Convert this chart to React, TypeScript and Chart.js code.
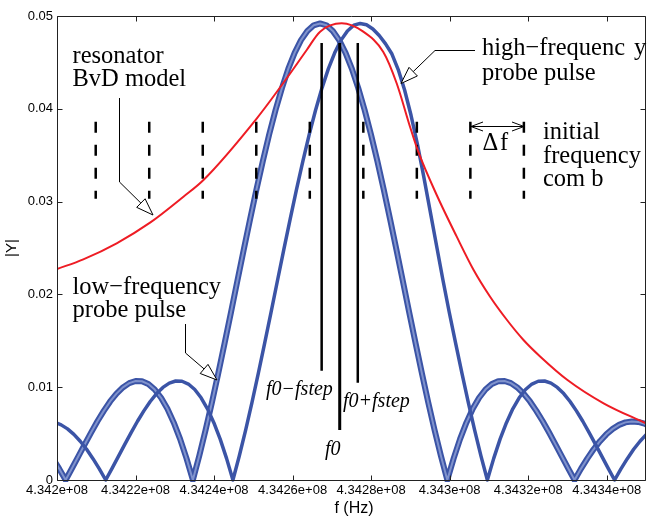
import { useEffect, useRef } from 'react';
import { Chart, registerables } from 'chart.js';

Chart.register(...registerables);

// ---- axis ticks ----
const xTickValues = [434200000, 434220000, 434240000, 434260000, 434280000, 434300000, 434320000, 434340000];
const xTickLabels = ['4.342e+08', '4.3422e+08', '4.3424e+08', '4.3426e+08', '4.3428e+08', '4.343e+08', '4.3432e+08', '4.3434e+08'];
const yTickValues = [0, 0.01, 0.02, 0.03, 0.04, 0.05];
const yTickLabels = ['0', '0.01', '0.02', '0.03', '0.04', '0.05'];

// ---- low-frequency probe pulse (circle markers) ----
const lowPulseHz = [
  434198960, 434200580, 434202200, 434203820, 434205440, 434207060, 434208680, 434210300, 434211920, 434213540,
  434215160, 434216780, 434218400, 434220020, 434221640, 434223260, 434224880, 434226500, 434228120, 434229740,
  434231360, 434232980, 434234600, 434236220, 434237840, 434239460, 434241080, 434242700, 434244320, 434245940,
  434247560, 434249180, 434250800, 434252420, 434254040, 434255660, 434257280, 434258900, 434260520, 434262140,
  434263760, 434265380, 434267000, 434268620, 434270240, 434271860, 434273480, 434275100, 434276720, 434278340,
  434279960, 434281580, 434283200, 434284820, 434286440, 434288060, 434289680, 434291300, 434292920, 434294540,
  434296160, 434297780, 434299400, 434301020, 434302640, 434304260, 434305880, 434307500, 434309120, 434310740,
  434312360, 434313980, 434315600, 434317220, 434318840, 434320460, 434322080, 434323700, 434325320, 434326940,
  434328560, 434330180, 434331800, 434333420, 434335040, 434336660, 434338280, 434339900, 434341520, 434343140,
  434344760, 434346380, 434348000, 434349620, 434351240,
];
const lowPulseY = [
  0.0023, 0.0012, 0, 0.00126, 0.00255, 0.00384, 0.00511, 0.00633, 0.00745, 0.00846,
  0.00931, 0.00998, 0.01044, 0.01067, 0.01064, 0.01034, 0.00975, 0.00886, 0.00767, 0.00618,
  0.0044, 0.00233, 0, 0.00258, 0.00538, 0.00836, 0.01151, 0.01477, 0.0181, 0.02147,
  0.02482, 0.02812, 0.03132, 0.03437, 0.03724, 0.03987, 0.04223, 0.0443, 0.04603, 0.0474,
  0.04839, 0.049, 0.0492, 0.049, 0.04839, 0.0474, 0.04603, 0.0443, 0.04223, 0.03987,
  0.03724, 0.03437, 0.03132, 0.02812, 0.02482, 0.02147, 0.0181, 0.01477, 0.01151, 0.00836,
  0.00538, 0.00258, 0, 0.00233, 0.0044, 0.00618, 0.00767, 0.00886, 0.00975, 0.01034,
  0.01064, 0.01067, 0.01044, 0.00998, 0.00931, 0.00846, 0.00745, 0.00633, 0.00511, 0.00384,
  0.00255, 0.00126, 0, 0.0012, 0.0023, 0.00331, 0.00418, 0.00492, 0.00551, 0.00594,
  0.00621, 0.00631, 0.00626, 0.00607, 0.00573,
];

// ---- high-frequency probe pulse (plus markers) ----
const highPulseHz = [
  434199440, 434201060, 434202680, 434204300, 434205920, 434207540, 434209160, 434210780, 434212400, 434214020,
  434215640, 434217260, 434218880, 434220500, 434222120, 434223740, 434225360, 434226980, 434228600, 434230220,
  434231840, 434233460, 434235080, 434236700, 434238320, 434239940, 434241560, 434243180, 434244800, 434246420,
  434248040, 434249660, 434251280, 434252900, 434254520, 434256140, 434257760, 434259380, 434261000, 434262620,
  434264240, 434265860, 434267480, 434269100, 434270720, 434272340, 434273960, 434275580, 434277200, 434278820,
  434280440, 434282060, 434283680, 434285300, 434286920, 434288540, 434290160, 434291780, 434293400, 434295020,
  434296640, 434298260, 434299880, 434301500, 434303120, 434304740, 434306360, 434307980, 434309600, 434311220,
  434312840, 434314460, 434316080, 434317700, 434319320, 434320940, 434322560, 434324180, 434325800, 434327420,
  434329040, 434330660, 434332280, 434333900, 434335520, 434337140, 434338760, 434340380, 434342000, 434343620,
  434345240, 434346860, 434348480, 434350100, 434351720,
];
const highPulseY = [
  0.00621, 0.00594, 0.00551, 0.00492, 0.00418, 0.00331, 0.0023, 0.0012, 0, 0.00126,
  0.00255, 0.00384, 0.00511, 0.00633, 0.00745, 0.00846, 0.00931, 0.00998, 0.01044, 0.01067,
  0.01064, 0.01034, 0.00975, 0.00886, 0.00767, 0.00618, 0.0044, 0.00233, 0, 0.00258,
  0.00538, 0.00836, 0.01151, 0.01477, 0.0181, 0.02147, 0.02482, 0.02812, 0.03132, 0.03437,
  0.03724, 0.03987, 0.04223, 0.0443, 0.04603, 0.0474, 0.04839, 0.049, 0.0492, 0.04905,
  0.0486, 0.0479, 0.047, 0.0459, 0.0442, 0.042, 0.0393, 0.0362, 0.0327, 0.029,
  0.0253, 0.0216, 0.0181, 0.01477, 0.01151, 0.00836, 0.00538, 0.00258, 0, 0.00233,
  0.0044, 0.00618, 0.00767, 0.00886, 0.00975, 0.01034, 0.01064, 0.01067, 0.01044, 0.00998,
  0.00931, 0.00846, 0.00745, 0.00633, 0.00511, 0.00384, 0.00255, 0.00126, 0, 0.0012,
  0.0023, 0.00331, 0.00418, 0.00492, 0.00551,
];

// ---- resonator BvD model ----
const bvdHz = [
  434200000, 434206700, 434215200, 434223700, 434232200, 434237300, 434250900, 434258500, 434263600, 434267000,
  434272500, 434278000, 434283100, 434286500, 434289900, 434292000, 434296700, 434301800, 434306100, 434310300,
  434314600, 434318800, 434323100, 434330000, 434339200, 434350000,
];
const bvdY = [
  0.02273, 0.02378, 0.02551, 0.02773, 0.03053, 0.03233, 0.03898, 0.04329, 0.04634, 0.04831,
  0.04921, 0.04831, 0.04612, 0.04275, 0.03807, 0.03538, 0.03071, 0.02622, 0.02263, 0.01975,
  0.01724, 0.01509, 0.01329, 0.01078, 0.00827, 0.0061,
];

// ---- initial frequency comb (dashed) ----
const combHz = [434209860, 434223490, 434237120, 434250750, 434264380, 434278010, 434291640, 434305270, 434318900];
const combTop = 0.0386;
const combBottom = 0.0303;

// ---- f0 - fstep, f0 + fstep and f0 ----
const stepLineHz = [434267400, 434276600];
const stepLineTop = [0.0471, 0.0471];
const stepLineBottom = [0.01178, 0.01049];
const f0Hz = 434272000;
const f0Top = 0.0471;
const f0Bottom = 0.00539;

const BLUE = '#3b54a6';
const RED = '#ee1c24';
const SANS = '"Liberation Sans", Arial, Helvetica, sans-serif';
const SERIF = '"Liberation Serif", "Times New Roman", serif';

function openArrow(ctx: CanvasRenderingContext2D, pts: number[][], len = 17, half = 6) {
  const tip = pts[pts.length - 1];
  const prev = pts[pts.length - 2];
  const dx = tip[0] - prev[0];
  const dy = tip[1] - prev[1];
  const d = Math.hypot(dx, dy);
  const ux = dx / d, uy = dy / d;
  const bx = tip[0] - ux * len, by = tip[1] - uy * len;
  ctx.beginPath();
  ctx.moveTo(pts[0][0], pts[0][1]);
  for (let i = 1; i < pts.length - 1; i++) ctx.lineTo(pts[i][0], pts[i][1]);
  ctx.lineTo(bx, by);
  ctx.stroke();
  ctx.beginPath();
  ctx.moveTo(tip[0], tip[1]);
  ctx.lineTo(bx - uy * half, by + ux * half);
  ctx.lineTo(bx + uy * half, by - ux * half);
  ctx.closePath();
  ctx.fillStyle = '#fff';
  ctx.fill();
  ctx.stroke();
}

const decorPlugin = {
  id: 'decor',
  afterDraw(chart: any) {
    const ctx: CanvasRenderingContext2D = chart.ctx;
    const { left, right, top, bottom } = chart.chartArea;
    const xs = chart.scales.x;
    const ys = chart.scales.y;
    ctx.save();
    // axes box
    ctx.strokeStyle = '#222';
    ctx.lineWidth = 1;
    const xL = left + 0.5, xR = right - 0.5, yT = top + 0.5, yB = bottom + 0.5;
    ctx.beginPath();
    ctx.moveTo(xL, yT); ctx.lineTo(xR, yT); ctx.lineTo(xR, yB); ctx.lineTo(xL, yB); ctx.closePath();
    ctx.stroke();
    // inward ticks
    ctx.beginPath();
    for (const v of xTickValues) {
      const px = Math.round(xs.getPixelForValue(v)) + 0.5;
      ctx.moveTo(px, yB); ctx.lineTo(px, yB - 5);
      ctx.moveTo(px, yT); ctx.lineTo(px, yT + 5);
    }
    for (const v of yTickValues) {
      const py = Math.round(ys.getPixelForValue(v)) + 0.5;
      ctx.moveTo(xL, py); ctx.lineTo(xL + 5, py);
      ctx.moveTo(xR, py); ctx.lineTo(xR - 5, py);
    }
    ctx.stroke();

    // axis titles
    ctx.fillStyle = '#000';
    ctx.font = `16px ${SANS}`;
    ctx.textAlign = 'center';
    ctx.textBaseline = 'alphabetic';
    ctx.fillText('f (Hz)', 354, 513);
    ctx.save();
    ctx.translate(16, 248);
    ctx.rotate(-Math.PI / 2);
    ctx.font = `15px ${SANS}`;
    ctx.fillText('|Y|', 0, 0);
    ctx.restore();

    // annotations
    ctx.textAlign = 'left';
    ctx.font = `24.5px ${SERIF}`;
    ctx.fillText('resonator', 72.5, 62.5);
    ctx.fillText('BvD model', 72.5, 86);
    ctx.fillText('high\u2212frequenc', 482, 55);
    ctx.fillText('y', 634, 55);
    ctx.fillText('probe pulse', 482, 80);
    ctx.fillText('initial', 543, 138.5);
    ctx.fillText('frequency', 543, 163);
    ctx.fillText('com b', 543, 185.5);
    ctx.fillText('low\u2212frequency', 72.5, 293.5);
    ctx.fillText('probe pulse', 72.5, 317);
    ctx.fillText('\u0394', 482.5, 150);
    ctx.fillText('f', 500, 150);
    ctx.font = `italic 20px ${SERIF}`;
    ctx.fillText('f0\u2212fstep', 266, 395);
    ctx.fillText('f0+fstep', 343, 407);
    ctx.fillText('f0', 325, 455);

    ctx.strokeStyle = '#000';
    ctx.lineWidth = 1;
    openArrow(ctx, [[119.5, 98], [119.5, 182], [153, 215]]);
    openArrow(ctx, [[475, 50.5], [435, 50.5], [401, 83.5]]);
    openArrow(ctx, [[185.5, 324], [185.5, 353], [217, 380]]);

    // delta-f double arrow
    const ay = 126.5, ax1 = 471, ax2 = 524;
    ctx.beginPath();
    ctx.moveTo(ax1, ay); ctx.lineTo(ax2, ay);
    ctx.moveTo(ax1 + 12, ay - 4.5); ctx.lineTo(ax1, ay); ctx.lineTo(ax1 + 12, ay + 4.5);
    ctx.moveTo(ax2 - 12, ay - 4.5); ctx.lineTo(ax2, ay); ctx.lineTo(ax2 - 12, ay + 4.5);
    ctx.stroke();
    ctx.restore();
  },
};

export default function App() {
  const ref = useRef<HTMLCanvasElement | null>(null);
  useEffect(() => {
    document.body.style.margin = '0';
    const canvas = ref.current;
    if (!canvas) return;

    const combData: any[] = [];
    combHz.forEach((f) => {
      combData.push({ x: f, y: combTop }, { x: f, y: combBottom }, { x: f, y: null });
    });
    const stepData: any[] = [];
    stepLineHz.forEach((f, i) => {
      stepData.push({ x: f, y: stepLineTop[i] }, { x: f, y: stepLineBottom[i] }, { x: f, y: null });
    });
    const lowData = lowPulseHz.map((x, i) => ({ x, y: lowPulseY[i] }));
    const highData = highPulseHz.map((x, i) => ({ x, y: highPulseY[i] }));
    const bvdData = bvdHz.map((x, i) => ({ x, y: bvdY[i] }));
    const clip = { left: 0, right: 0, top: 0, bottom: 2 };

    const chart = new Chart(canvas, {
      type: 'line',
      data: {
        datasets: [
          { label: 'BvD', data: bvdData, borderColor: RED, borderWidth: 2, cubicInterpolationMode: 'monotone', pointRadius: 0, clip } as any,
          { label: 'comb', data: combData, borderColor: '#000', borderWidth: 2.5, borderDash: [11, 12], pointRadius: 0, borderCapStyle: 'butt' } as any,
          { label: 'steps', data: stepData, borderColor: '#000', borderWidth: 2.5, pointRadius: 0 } as any,
          { label: 'f0', data: [{ x: f0Hz, y: f0Top }, { x: f0Hz, y: f0Bottom }], borderColor: '#000', borderWidth: 3, pointRadius: 0 } as any,
          { label: 'high', data: highData, borderColor: BLUE, borderWidth: 3.5, borderJoinStyle: 'round', pointRadius: 0, clip } as any,
          { label: 'lowInner', data: lowData, borderColor: 'rgba(185,198,236,0.55)', borderWidth: 2, borderJoinStyle: 'round', pointRadius: 0, clip } as any,
          { label: 'low', data: lowData, borderColor: BLUE, borderWidth: 6, borderJoinStyle: 'round', pointRadius: 0, clip } as any,
        ],
      },
      options: {
        animation: false,
        responsive: false,
        layout: { padding: { top: 16, right: 1, left: 0, bottom: 0 } },
        plugins: { legend: { display: false }, tooltip: { enabled: false }, title: { display: false } },
        elements: { point: { radius: 0 } },
        scales: {
          x: {
            type: 'linear',
            min: 434200000,
            max: 434350000,
            grid: { display: false, drawTicks: false },
            border: { display: false },
            afterBuildTicks: (s: any) => { s.ticks = xTickValues.map((v) => ({ value: v })); },
            afterFit: (s: any) => { s.height = 37; },
            ticks: {
              autoSkip: false,
              maxRotation: 0,
              minRotation: 0,
              padding: 3,
              color: '#000',
              font: { size: 13, family: SANS },
              callback: (v: any) => xTickLabels[xTickValues.indexOf(Number(v))] ?? '',
            },
          },
          y: {
            type: 'linear',
            min: 0,
            max: 0.05,
            grid: { display: false, drawTicks: false },
            border: { display: false },
            afterBuildTicks: (s: any) => { s.ticks = yTickValues.map((v) => ({ value: v })); },
            afterFit: (s: any) => { s.width = 57; },
            ticks: {
              padding: 4,
              color: '#000',
              font: { size: 13, family: SANS },
              callback: (_v: any, i: number) => yTickLabels[i] ?? '',
            },
          },
        },
      } as any,
      plugins: [decorPlugin],
    });
    return () => chart.destroy();
  }, []);

  return (
    <div style={{ width: 647, height: 517 }}>
      <canvas ref={ref} width={647} height={517} style={{ display: 'block' }} />
    </div>
  );
}
